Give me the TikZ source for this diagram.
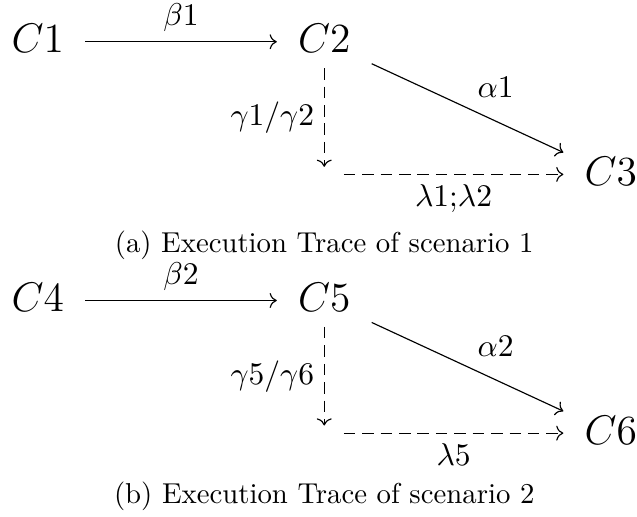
\documentclass[tikz,border=0pt]{standalone}
\usetikzlibrary{arrows.meta}
\begin{document}
\begin{tikzpicture}[>={Computer Modern Rightarrow},
 cfg/.style={font=\Large,text height=10pt,text depth=2.4pt,
 inner xsep=7.2pt,inner ysep=2.8pt},
 gap/.style={inner sep=0pt,minimum width=13.2pt,minimum height=4.9pt},
 lbl/.style={font=\fontsize{10.95}{13}\selectfont},
 dsh/.style={dash pattern=on 4pt off 2.4pt},
 subcap/.style={font=\normalsize}]
\useasboundingbox (0,0) rectangle (7.78,-6.31);
% scenario 1
\node[cfg] (c1) at (0.46,-0.51) {$C1$};
\node[cfg] (c2) at (3.96,-0.51) {$C2$};
\node[gap] (e1) at (3.96,-2.13) {};
\node[cfg] (c3) at (7.46,-2.13) {$C3$};
\node[subcap] (capa) at (3.96,-2.99) {(a) Execution Trace of scenario 1};
\draw[->] (c1) -- node[lbl,above] (b1) {$\beta1$} (c2);
\draw[->] (c2) -- node[lbl,above right] (a1) {$\alpha1$} (c3);
\draw[->,dsh] (c2) -- node[lbl,left] (g1) {$\gamma1/\gamma2$} (e1);
\draw[->,dsh] (e1) -- node[lbl,below] (l1) {$\lambda1{;}\lambda2$} (c3);
% scenario 2
\node[cfg] (c4) at (0.46,-3.67) {$C4$};
\node[cfg] (c5) at (3.96,-3.67) {$C5$};
\node[gap] (e2) at (3.96,-5.29) {};
\node[cfg] (c6) at (7.46,-5.29) {$C6$};
\node[subcap] (capb) at (3.96,-6.06) {(b) Execution Trace of scenario 2};
\draw[->] (c4) -- node[lbl,above] (b2) {$\beta2$} (c5);
\draw[->] (c5) -- node[lbl,above right] (a2) {$\alpha2$} (c6);
\draw[->,dsh] (c5) -- node[lbl,left] (g2) {$\gamma5/\gamma6$} (e2);
\draw[->,dsh] (e2) -- node[lbl,below] (l2) {$\lambda5$} (c6);
\end{tikzpicture}
\end{document}
